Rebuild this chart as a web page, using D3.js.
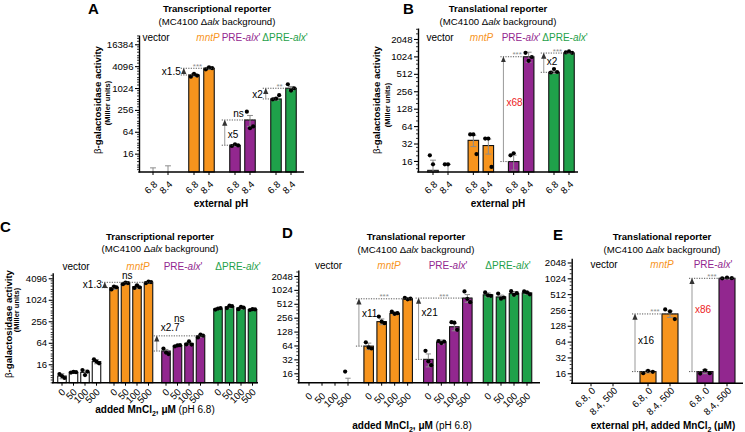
<!DOCTYPE html>
<html><head><meta charset="utf-8">
<script src="https://cdn.jsdelivr.net/npm/d3@7"></script>
<style>
body{margin:0;background:#fff}
svg{font-family:"Liberation Sans",Arial,Helvetica,sans-serif}
</style></head><body>
<svg id="c" width="745" height="432"></svg>
<script>
// ---------------- DATA ----------------
const groups4 = ["vector","mntP","PRE","dPRE"];
const groups3 = ["vector","mntP","PRE"];

// Panel A: transcriptional reporter, external pH
const condsA = ["6.8","8.4"];
const meanA = [[3.2,3.5],[2340,3580],[27.3,135],[512,1010]];
const errA  = [[3.3,3.9],[220,250],[1.5,45],[40,120]];
const ptsA  = [[[1.5,2.5,4],[1.5,3,4.5]],[[2100,2500,2250],[3350,3800,3600]],[[26,29,27],[229,80,90]],[[500,520,650],[1300,870,1010]]];
const yTicksA = [16,64,256,1024,4096,16384];

// Panel B: translational reporter, external pH
const condsB = ["6.8","8.4"];
const meanB = [[11,9.5],[36.3,29.5],[15.6,1010],[544,1170]];
const errB  = [[5.5,4.5],[8,8.5],[4.5,200],[25,25]];
const ptsB  = [[[20,14,3],[14,14,1]],[[46,46,21],[39,39,12.6]],[[20,21.7,5],[1180,860,1000]],[[540,620,550],[1200,1250,1180]]];
const yTicksB = [16,32,64,128,256,512,1024,2048];

// Panel C: transcriptional reporter, added MnCl2
const condsC = ["0","50","100","500"];
const meanC = [[7.5,9.6,9.5,19],[2240,2960,2380,3160],[37.6,53,61.6,100],[570,650,605,545]];
const errC  = [[1.2,0.5,1.5,2.5],[250,250,300,200],[4,2,6,8],[30,60,50,20]];
const ptsC  = [[[8.5,7.5,6.6],[9.4,9.8,9.6],[11,8,10],[22,19,17]],
               [[2000,2400,2300],[2800,3100,3000],[2200,2600,2300],[3000,3300,3200]],
               [[44,34,31],[51,54,55],[58,70,57],[90,108,102]],
               [[545,580,600],[600,700,680],[560,650,620],[530,560,550]]];
const yTicksC = [16,64,256,1024,4096];

// Panel D: translational reporter, added MnCl2
const condsD = ["0","50","100","500"];
const meanD = [[5,5,5,8],[62,210,318,656],[32,76,163,680],[800,720,850,880]];
const errD  = [[0,0,0,4.5],[10,30,25,20],[10,8,30,130],[80,70,90,60]];
const ptsD  = [[[],[],[],[17.4,3,4]],
               [[75,58,55],[270,210,195],[345,310,320],[690,640,660]],
               [[49,29,24],[80,72,78],[205,200,140],[950,655,555]],
               [[900,780,760],[850,660,700],[960,800,870],[950,900,820]]];
const yTicksD = [16,32,64,128,256,512,1024,2048];

// Panel E: translational reporter, pH + MnCl2
const condsE = ["6.8, 0","8.4, 500"];
const meanE = [[5,5],[17.2,215],[17.2,1024]];
const errE  = [[0,0],[1,30],[1.5,30]];
const ptsE  = [[[],[]],[[16,17.8,17],[262,240,172]],[[15.8,18.2,16],[1024,1060,1030]]];
const yTicksE = [16,32,64,128,256,512,1024,2048];

// fold-change annotations (group index, low cond, high cond)
const annotations = [
 {p:"A", g:1, lo:0, hi:1, text:"x1.5", side:"left",  f:0.5,  sig:"***", red:false},
 {p:"A", g:2, lo:0, hi:1, text:"x5",   side:"right", f:0.42, sig:"ns",  red:false},
 {p:"A", g:3, lo:0, hi:1, text:"x2",   side:"left",  f:0.45, sig:"**",  red:false},
 {p:"B", g:2, lo:0, hi:1, text:"x68",  side:"right", f:0.56, sig:"***", red:true},
 {p:"B", g:3, lo:0, hi:1, text:"x2",   side:"right", f:0.55, sig:"***", red:false},
 {p:"C", g:1, lo:0, hi:3, text:"x1.3", side:"left",  f:0.5,  sig:"ns",  red:false},
 {p:"C", g:2, lo:0, hi:3, text:"x2.7", side:"above", f:0,    sig:"ns",  red:false},
 {p:"D", g:1, lo:0, hi:3, text:"x11",  side:"right", f:0.7,  sig:"***", red:false},
 {p:"D", g:2, lo:0, hi:3, text:"x21",  side:"right", f:0.76, sig:"***", red:false},
 {p:"E", g:1, lo:0, hi:1, text:"x16",  side:"right", f:0.54, sig:"***", red:false},
 {p:"E", g:2, lo:0, hi:1, text:"x86",  side:"right", f:0.67, sig:"***", red:true}
];

// ---------------- STYLE / LAYOUT ----------------
const COL = {vector:"#ffffff", mntP:"#F7941D", PRE:"#92278F", dPRE:"#1FA14A"};
const TXT = {vector:"#000000", mntP:"#F7941D", PRE:"#92278F", dPRE:"#1FA14A"};
const RED = "#ED1C24", GREY = "#8c8c8c";

const layout = {
 A:{ax0:139, ax1:304, ay0:172, ay1:35, dom:[5,29500], gc:[160.5,283.5], bo:7.5, bw:10.5, lx:[156,208,241,285],
    title:[217,11.5,25], letter:[88,14], gy:40.5, xt:[221,207], yt:[97.5,107.5,100,103], lab:[5,13], kind:"tx", xkind:"pH"},
 B:{ax0:418, ax1:578, ay0:172, ay1:28, dom:[10.3,3170], gc:[440.5,561.5], bo:7.5, bw:10.5, lx:[440,481.5,521,565],
    title:[498,11.5,25], letter:[403,14], gy:40.5, xt:[498,207], yt:[377,387,100,105], lab:[5,13], kind:"tl", xkind:"pH"},
 C:{ax0:52.7, ax1:258, ay0:382.7, ay1:272.7, dom:[4.88,5870], gc:[79.25,235.25], bo:17.25, bw:8.5, lx:[76,138,183,238],
    title:[160,239.5,251.5], letter:[0,232], gy:269.5, xt:[155,413], yt:[8.5,16,324,310], lab:[4,10], kind:"tx", xkind:"mn"},
 D:{ax0:298.3, ax1:540, ay0:382.7, ay1:270, dom:[10,2760], gc:[328.5,507.5], bo:19.5, bw:9.5, lx:[328.5,389,448,508],
    title:[416,239.5,252.5], letter:[282,238], gy:268.5, xt:[412,429], yt:null, lab:[4,14], kind:"tl", xkind:"mn"},
 E:{ax0:571.7, ax1:743, ay0:383.3, ay1:258.3, dom:[10.3,2460], gc:[602,716], bo:11, bw:16, lx:[604,662,713],
    title:[662,239.5,252.5], letter:[553,240], gy:267.5, xt:[663,429], yt:null, lab:[5,8], kind:"tl", xkind:"both"}
};

const panels = [
 {id:"A", groups:groups4, conds:condsA, mean:meanA, err:errA, pts:ptsA, yTicks:yTicksA},
 {id:"B", groups:groups4, conds:condsB, mean:meanB, err:errB, pts:ptsB, yTicks:yTicksB},
 {id:"C", groups:groups4, conds:condsC, mean:meanC, err:errC, pts:ptsC, yTicks:yTicksC},
 {id:"D", groups:groups4, conds:condsD, mean:meanD, err:errD, pts:ptsD, yTicks:yTicksD},
 {id:"E", groups:groups3, conds:condsE, mean:meanE, err:errE, pts:ptsE, yTicks:yTicksE}
];

const svg = d3.select("#c");
const defs = svg.append("defs");
defs.append("marker").attr("id","arr").attr("viewBox","0 0 8 8").attr("refX",7).attr("refY",4)
  .attr("markerWidth",6).attr("markerHeight",6).attr("markerUnits","userSpaceOnUse").attr("orient","auto")
  .append("path").attr("d","M0,0.5 L8,4 L0,7.5 Z").attr("fill","#333");

function groupLabel(t, key){
  if(key==="vector") t.append("tspan").text("vector");
  else if(key==="mntP") t.append("tspan").attr("font-style","italic").text("mntP");
  else {
    t.append("tspan").text(key==="PRE" ? "PRE-" : "\u0394PRE-");
    t.append("tspan").attr("font-style","italic").text("alx");
    t.append("tspan").text("'");
  }
}

function drawPanel(P){
  const L = layout[P.id];
  const g = svg.append("g");
  const y = d3.scaleLog().base(2).domain(L.dom).range([L.ay0, L.ay1]);
  const gx = d3.scalePoint().domain(P.groups).range(L.gc);
  const cx = d3.scalePoint().domain(P.conds).range([-L.bo, L.bo]);
  const X = (gi, ci) => gx(P.groups[gi]) + cx(P.conds[ci]);

  // letter, titles
  g.append("text").attr("x",L.letter[0]).attr("y",L.letter[1]).attr("font-size",15).attr("font-weight","bold").text(P.id);
  g.append("text").attr("x",L.title[0]).attr("y",L.title[1]).attr("text-anchor","middle").attr("font-size",9.6)
    .attr("font-weight","bold").text(L.kind==="tx" ? "Transcriptional reporter" : "Translational reporter");
  const st = g.append("text").attr("x",L.title[0]).attr("y",L.title[2]).attr("text-anchor","middle").attr("font-size",9.6);
  st.append("tspan").text("(MC4100 \u0394");
  st.append("tspan").attr("font-style","italic").text("alx");
  st.append("tspan").text(" background)");

  // group labels
  P.groups.forEach((k,i)=>{
    const t = g.append("text").attr("x",L.lx[i]).attr("y",L.gy).attr("text-anchor","middle")
      .attr("font-size",10).attr("fill",TXT[k]);
    groupLabel(t,k);
  });

  // bars
  const bars = [];
  P.groups.forEach((k,gi)=>P.conds.forEach((c,ci)=>bars.push({k,gi,ci,m:P.mean[gi][ci],e:P.err[gi][ci],pts:P.pts[gi][ci]})));
  g.selectAll(".bar").data(bars.filter(d=>d.m>L.dom[0])).join("rect")
    .attr("x",d=>X(d.gi,d.ci)-L.bw/2).attr("width",L.bw)
    .attr("y",d=>y(d.m)).attr("height",d=>L.ay0-y(d.m))
    .attr("fill",d=>COL[d.k]).attr("stroke","#111").attr("stroke-width",1.1);

  // error bars
  const eb = bars.filter(d=>d.e>0);
  const cw = Math.min(L.bw*0.28,3);
  eb.forEach(d=>{
    const xc = X(d.gi,d.ci);
    const top = y(d.m+d.e);
    const lowV = d.m-d.e;
    const bot = lowV>L.dom[0] ? y(lowV) : L.ay0;
    g.append("line").attr("x1",xc).attr("x2",xc).attr("y1",bot).attr("y2",top).attr("stroke",GREY).attr("stroke-width",1);
    g.append("line").attr("x1",xc-cw).attr("x2",xc+cw).attr("y1",top).attr("y2",top).attr("stroke",GREY).attr("stroke-width",1);
    if(lowV>L.dom[0]) g.append("line").attr("x1",xc-cw).attr("x2",xc+cw).attr("y1",bot).attr("y2",bot).attr("stroke",GREY).attr("stroke-width",1);
  });

  // points
  const dots = [];
  bars.forEach(d=>d.pts.forEach((v,i)=>{ if(v>L.dom[0]) dots.push({x:X(d.gi,d.ci)+(i-1)*L.bw*0.3, v}); }));
  g.selectAll(".dot").data(dots).join("circle").attr("cx",d=>d.x).attr("cy",d=>y(d.v)).attr("r",2.1).attr("fill","#000");

  // y axis
  const minor = [];
  for(let k=Math.floor(Math.log2(L.dom[0])); k<=Math.ceil(Math.log2(L.dom[1])); k++){
    [1,1.25,1.5,1.75].forEach(m=>{ const v=Math.pow(2,k)*m; if(v>L.dom[0]&&v<L.dom[1]&&!P.yTicks.includes(v)) minor.push(v); });
  }
  const ym = g.append("g").attr("transform",`translate(${L.ax0},0)`)
    .call(d3.axisLeft(y).tickValues(minor).tickFormat("").tickSize(2).tickSizeOuter(0));
  ym.select(".domain").remove();
  ym.selectAll("line").attr("stroke","#000").attr("stroke-width",0.8);
  const ya = g.append("g").attr("transform",`translate(${L.ax0},0)`)
    .call(d3.axisLeft(y).tickValues(P.yTicks).tickFormat(d=>String(d)).tickSize(4).tickSizeOuter(0).tickPadding(1.5));
  ya.select(".domain").attr("stroke","#000").attr("stroke-width",1.4);
  ya.selectAll("line").attr("stroke","#000").attr("stroke-width",1.1);
  ya.selectAll("text").attr("font-size",9.6).attr("font-family",'"Liberation Sans",Arial,sans-serif').attr("fill","#000");

  // x axis
  g.append("line").attr("x1",L.ax0-0.7).attr("x2",L.ax1).attr("y1",L.ay0).attr("y2",L.ay0).attr("stroke","#000").attr("stroke-width",1.4);
  bars.forEach(d=>{
    const xc = X(d.gi,d.ci);
    g.append("line").attr("x1",xc).attr("x2",xc).attr("y1",L.ay0).attr("y2",L.ay0+3).attr("stroke","#000").attr("stroke-width",1);
    g.append("text").attr("transform",`translate(${xc+L.lab[0]},${L.ay0+L.lab[1]}) rotate(-45)`)
      .attr("text-anchor","end").attr("font-size",9.6).text(P.conds[d.ci]);
  });

  // x title
  const xt = g.append("text").attr("x",L.xt[0]).attr("y",L.xt[1]).attr("text-anchor","middle").attr("font-size",10);
  if(L.xkind==="pH"){ xt.append("tspan").attr("font-weight","bold").text("external pH"); }
  else if(L.xkind==="mn"){
    xt.append("tspan").attr("font-weight","bold").text("added MnCl");
    xt.append("tspan").attr("font-weight","bold").attr("font-size",7).attr("dy",2.5).text("2");
    xt.append("tspan").attr("font-weight","bold").attr("dy",-2.5).text(", \u03BCM");
    xt.append("tspan").text(" (pH 6.8)");
  } else {
    xt.append("tspan").attr("font-weight","bold").text("external pH, added MnCl");
    xt.append("tspan").attr("font-weight","bold").attr("font-size",7).attr("dy",2.5).text("2");
    xt.append("tspan").attr("font-weight","bold").attr("dy",-2.5).text(" (\u03BCM)");
  }

  // y title
  if(L.yt){
    const t1 = g.append("text").attr("transform",`translate(${L.yt[0]},${L.yt[2]}) rotate(-90)`)
      .attr("text-anchor","middle").attr("dy","0.35em").attr("font-size",9.6);
    t1.append("tspan").text("\u03B2");
    t1.append("tspan").attr("font-weight","bold").text("-galactosidase activity");
    g.append("text").attr("transform",`translate(${L.yt[1]},${L.yt[3]}) rotate(-90)`)
      .attr("text-anchor","middle").attr("dy","0.35em").attr("font-size",7.5).attr("font-weight","bold").text("(Miller units)");
  }

  // annotations
  annotations.filter(a=>a.p===P.id).forEach(a=>{
    const xLo = X(a.g,a.lo), xHi = X(a.g,a.hi);
    const yLo = y(P.mean[a.g][a.lo]), yHi = y(P.mean[a.g][a.hi]);
    const axx = xLo - L.bw/2 - 5;
    const xs = axx-3, xe = xHi + L.bw/2;
    g.append("line").attr("x1",xs).attr("x2",xe).attr("y1",yHi).attr("y2",yHi)
      .attr("stroke","#444").attr("stroke-width",0.9).attr("stroke-dasharray","1.2,1.3");
    g.append("line").attr("x1",xs).attr("x2",xLo).attr("y1",yLo).attr("y2",yLo)
      .attr("stroke","#444").attr("stroke-width",0.9).attr("stroke-dasharray","1.2,1.3");
    g.append("line").attr("x1",axx).attr("x2",axx).attr("y1",yLo).attr("y2",yHi+0.5)
      .attr("stroke","#999").attr("stroke-width",1).attr("marker-end","url(#arr)");
    const fc = a.red ? RED : "#000";
    if(a.side==="above"){
      g.append("text").attr("x",axx+4).attr("y",yHi-5).attr("font-size",10).attr("fill",fc).text(a.text);
      g.append("text").attr("x",(xs+xe)/2).attr("y",yHi-14).attr("text-anchor","middle").attr("font-size",10)
        .attr("fill",a.sig==="ns"?"#000":GREY).text(a.sig);
    } else {
      const ty = yLo + (yHi-yLo)*a.f;
      g.append("text").attr("x",a.side==="left"?axx-3:axx+3).attr("y",ty).attr("dy","0.35em")
        .attr("text-anchor",a.side==="left"?"end":"start").attr("font-size",10).attr("fill",fc).text(a.text);
      g.append("text").attr("x",(xs+xe)/2).attr("y",a.sig==="ns"?yHi-3:yHi+0.5).attr("text-anchor","middle")
        .attr("font-size",a.sig==="ns"?10:8).attr("fill",a.sig==="ns"?"#000":GREY).text(a.sig);
    }
  });
}

panels.forEach(drawPanel);
</script></body></html>
